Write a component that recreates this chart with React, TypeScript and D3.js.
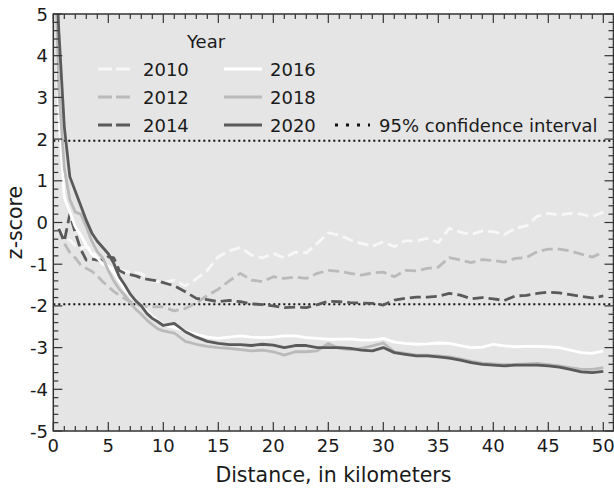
import React from "react";
import * as d3 from "d3";

const distances: number[] = [
  0.25, 0.5, 1, 1.5, 2, 2.5, 3, 3.5, 4, 4.5, 5, 5.5, 6, 6.5, 7, 7.5, 8, 8.5, 9, 9.5, 10,
  11, 12, 13, 14, 15, 16, 17, 18, 19, 20, 21, 22, 23, 24, 25, 26, 27, 28, 29, 30,
  31, 32, 33, 34, 35, 36, 37, 38, 39, 40, 41, 42, 43, 44, 45, 46, 47, 48, 49, 50,
];

const z2010: (number | null)[] = [
  null, -0.1, -0.38, -0.42, -0.55, -0.62, -0.58, -0.65, -0.85, -0.98, -1.05, -1.1, -1.13, -1.17, -1.19, -1.2, -1.22, -1.32, -1.4, -1.42, -1.45,
  -1.38, -1.52, -1.35, -1.15, -0.82, -0.68, -0.6, -0.78, -0.85, -0.74, -0.85, -0.71, -0.73, -0.5, -0.25, -0.3, -0.42, -0.5, -0.57, -0.46,
  -0.58, -0.44, -0.44, -0.38, -0.48, -0.14, -0.23, -0.29, -0.2, -0.22, -0.29, -0.14, -0.08, 0.15, 0.22, 0.18, 0.22, 0.2, 0.14, 0.25,
];
const z2012: (number | null)[] = [
  null, -0.15, -0.5, -0.72, -0.85, -1.02, -1.1, -1.17, -1.28, -1.42, -1.54, -1.65, -1.75, -1.83, -1.9, -1.95, -2.0, -2.02, -2.02, -2.02, -2.02,
  -2.12, -2.06, -1.93, -1.75, -1.6, -1.4, -1.22, -1.38, -1.42, -1.3, -1.34, -1.31, -1.34, -1.22, -1.15, -1.17, -1.22, -1.26, -1.21, -1.19,
  -1.3, -1.15, -1.16, -1.1, -1.07, -0.84, -0.9, -0.96, -0.89, -0.91, -0.95, -0.86, -0.84, -0.7, -0.64, -0.64, -0.68, -0.76, -0.83, -0.71,
];
const z2014: (number | null)[] = [
  null, -0.15, -0.45, 0.2, -0.25, -0.65, -0.9, -0.88, -0.9, -0.9, -0.82, -0.85, -1.15, -1.22, -1.25, -1.28, -1.33, -1.36, -1.38, -1.4, -1.44,
  -1.52, -1.66, -1.82, -1.85, -1.9, -1.87, -1.9, -1.95, -1.97, -2.0, -2.04, -2.03, -2.04, -1.97, -1.89, -1.9, -1.92, -1.93, -1.94, -1.98,
  -1.86, -1.82, -1.79, -1.79, -1.77, -1.7, -1.74, -1.83, -1.8, -1.83, -1.87, -1.76, -1.75, -1.7, -1.67, -1.69, -1.73, -1.77, -1.81, -1.76,
];
const z2016: (number | null)[] = [
  5.6, 2.6, 0.6, 0.25, -0.1, -0.3, -0.55, -0.75, -0.85, -1.0, -1.05, -1.2, -1.4, -1.6, -1.75, -1.88, -2.0, -2.12, -2.25, -2.35, -2.45,
  -2.52, -2.6, -2.68, -2.75, -2.78, -2.75, -2.72, -2.75, -2.76, -2.75, -2.72, -2.72, -2.76, -2.78, -2.8, -2.8, -2.79, -2.82, -2.82, -2.78,
  -2.87, -2.9, -2.92, -2.91, -2.89, -2.9, -2.95, -3.0, -2.99, -2.92, -2.96, -2.98, -2.97, -2.97, -2.98, -3.0, -3.06, -3.12, -3.14, -3.08,
];
const z2018: (number | null)[] = [
  5.4, 3.2, 1.3, 0.55, 0.25, 0.2, -0.1, -0.45, -0.7, -0.85, -1.15, -1.4, -1.6, -1.75, -1.92, -2.08, -2.2, -2.34, -2.45, -2.55, -2.6,
  -2.65, -2.85, -2.92, -2.97, -3.0, -3.02, -3.05, -3.08, -3.06, -3.1, -3.18, -3.1, -3.1, -3.08, -2.9, -3.02, -3.05, -3.02, -2.96, -2.89,
  -3.1, -3.14, -3.18, -3.18, -3.2, -3.22, -3.27, -3.33, -3.37, -3.39, -3.41, -3.4, -3.39, -3.38, -3.41, -3.44, -3.48, -3.52, -3.52, -3.48,
];
const z2020: (number | null)[] = [
  6.2, 4.6, 2.3, 1.1, 0.75, 0.4, 0.05, -0.25, -0.45, -0.6, -0.75, -0.98, -1.3, -1.5, -1.72, -1.88, -2.0, -2.18, -2.3, -2.38, -2.47,
  -2.42, -2.62, -2.75, -2.85, -2.9, -2.93, -2.93, -2.95, -2.92, -2.94, -3.0, -2.95, -2.95, -3.0, -3.0, -3.0, -3.02, -3.06, -3.08, -3.0,
  -3.12, -3.16, -3.2, -3.2, -3.22, -3.25, -3.3, -3.36, -3.4, -3.42, -3.44, -3.42, -3.42, -3.42, -3.44, -3.47, -3.52, -3.58, -3.6, -3.57,
];

const years = ["2010", "2012", "2014", "2016", "2018", "2020"];
const seriesValues = [z2010, z2012, z2014, z2016, z2018, z2020];
const ciValues = [1.96, -1.96];
const xTicks = [0, 5, 10, 15, 20, 25, 30, 35, 40, 45, 50];
const yTicks = [-5, -4, -3, -2, -1, 0, 1, 2, 3, 4, 5];
const ciLabel = "95% confidence interval";

const styles = [
  { color: "#f7f7f7", dash: "11,5" },
  { color: "#bababa", dash: "11,5" },
  { color: "#5a5a5a", dash: "11,5" },
  { color: "#ffffff", dash: null },
  { color: "#bababa", dash: null },
  { color: "#5a5a5a", dash: null },
];

const W = 614;
const H = 489;
const L = 53.3;
const R = 613.5;
const T = 14;
const B = 431;
const FONT = "DejaVu Sans, sans-serif";
const TXT = "#1a1a1a";
const SPINE = "#333333";
const FS = 18;

export default function App() {
  const x = d3.scaleLinear().domain([0, 51]).range([L, L + 51 * 11]);
  const y = d3.scaleLinear().domain([-5, 5]).range([B, T]);

  const line = d3
    .line<[number, number | null]>()
    .defined((d) => d[1] !== null)
    .x((d) => x(d[0]))
    .y((d) => y(d[1] as number));

  const xMinor = d3.range(0, 52, 1);
  const yMinor = d3.range(-5, 5.0001, 0.2);

  const legendRows = [69, 97, 125];
  const col1 = { x0: 98, x1: 130, tx: 143 };
  const col2 = { x0: 224, x1: 262, tx: 270 };

  return (
    <svg
      width={W}
      height={H}
      style={{ position: "absolute", left: 0, top: 0, background: "#fff" }}
      fontFamily={FONT}
    >
      <defs>
        <clipPath id="plotclip">
          <rect x={L} y={T} width={R - L} height={B - T} />
        </clipPath>
      </defs>
      <rect x={L} y={T} width={R - L} height={B - T} fill="#e5e5e5" />

      <g clipPath="url(#plotclip)">
        {ciValues.map((v, i) => (
          <line
            key={"ci" + i}
            x1={L}
            x2={R}
            y1={y(v)}
            y2={y(v)}
            stroke="#111"
            strokeWidth={2}
            strokeDasharray="2,3"
          />
        ))}
        {seriesValues.map((vals, i) => (
          <path
            key={years[i]}
            d={line(distances.map((d, j) => [d, vals[j]] as [number, number | null])) || ""}
            fill="none"
            stroke={styles[i].color}
            strokeWidth={2.8}
            strokeDasharray={styles[i].dash || undefined}
            strokeLinejoin="round"
          />
        ))}
      </g>

      <g stroke={SPINE} strokeWidth={1.2}>
        {xMinor.map((v) => {
          const major = v % 5 === 0;
          const len = major ? 9 : 5;
          return (
            <g key={"xt" + v}>
              <line x1={x(v)} x2={x(v)} y1={B} y2={B - len} />
              <line x1={x(v)} x2={x(v)} y1={T} y2={T + len} />
            </g>
          );
        })}
        {yMinor.map((v, i) => {
          const major = i % 5 === 0;
          const len = major ? 9 : 5;
          return (
            <g key={"yt" + i}>
              <line x1={L} x2={L + len} y1={y(v)} y2={y(v)} />
              <line x1={R} x2={R - len} y1={y(v)} y2={y(v)} />
            </g>
          );
        })}
      </g>

      <rect x={L} y={T} width={R - L} height={B - T} fill="none" stroke={SPINE} strokeWidth={1.5} />

      {xTicks.map((v) => (
        <text key={"xl" + v} x={x(v)} y={451.5} textAnchor="middle" fontSize={FS} fill={TXT}>
          {v}
        </text>
      ))}
      {yTicks.map((v) => (
        <text key={"yl" + v} x={48} y={y(v) + 6.5} textAnchor="end" fontSize={FS} fill={TXT}>
          {v}
        </text>
      ))}

      <text x={(L + R) / 2} y={482} textAnchor="middle" fontSize={20.5} fill={TXT}>
        Distance, in kilometers
      </text>
      <text
        transform={`translate(22,${(T + B) / 2}) rotate(-90)`}
        textAnchor="middle"
        fontSize={20.5}
        fill={TXT}
      >
        z-score
      </text>

      <text x={187} y={48} fontSize={FS} fill={TXT}>
        Year
      </text>
      {years.map((yr, i) => {
        const col = i < 3 ? col1 : col2;
        const ry = legendRows[i % 3];
        return (
          <g key={"lg" + yr}>
            <line
              x1={col.x0}
              x2={col.x1}
              y1={ry}
              y2={ry}
              stroke={styles[i].color}
              strokeWidth={2.8}
              strokeDasharray={styles[i].dash ? "14,4" : undefined}
            />
            <text x={col.tx} y={ry + 6.5} fontSize={FS} fill={TXT}>
              {yr}
            </text>
          </g>
        );
      })}
      <line x1={335} x2={370} y1={legendRows[2]} y2={legendRows[2]} stroke="#111" strokeWidth={3} strokeDasharray="3,8" />
      <text x={379} y={legendRows[2] + 6.5} fontSize={FS} fill={TXT}>
        {ciLabel}
      </text>
    </svg>
  );
}
